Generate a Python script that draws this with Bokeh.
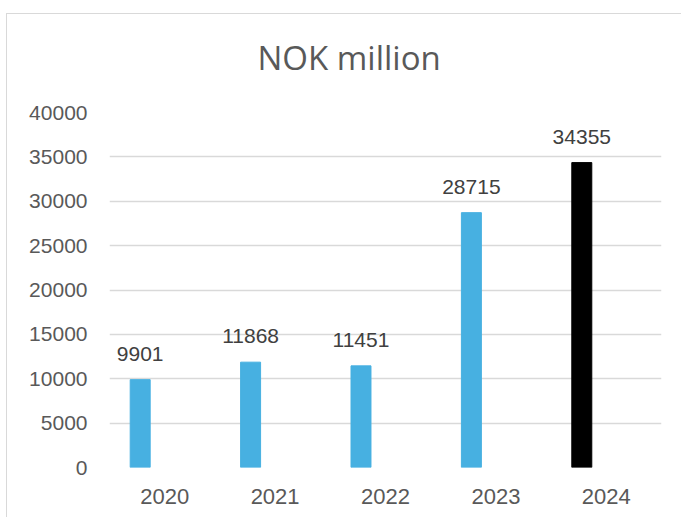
from bokeh.plotting import figure
from bokeh.models import (ColumnDataSource, FactorRange, Range1d, SingleIntervalTicker,
                          InlineStyleSheet)
from bokeh.transform import dodge
from bokeh.core.properties import value
from bokeh.embed import file_html
from bokeh.resources import INLINE

years = ["2020", "2021", "2022", "2023", "2024"]
values = [9901, 11868, 11451, 28715, 34355]
bar_colors = ["#47B0E1", "#47B0E1", "#47B0E1", "#47B0E1", "#000000"]
y_ticks_interval = 5000
title_text = "NOK million"

src = ColumnDataSource(dict(
    year=years,
    value=values,
    label=[str(v) for v in values],
    color=bar_colors,
))

p = figure(
    width=681, height=517,
    x_range=FactorRange(*years),
    y_range=Range1d(0, 40000),
    output_backend="svg", toolbar_location=None,
    min_border_left=109, min_border_right=20,
    min_border_top=111, min_border_bottom=50,
    title=title_text,
)
p.background_fill_color = "white"
p.border_fill_color = "white"
p.outline_line_color = None

offset = -0.222
p.vbar(x=dodge("year", offset, range=p.x_range), top="value", width=0.181,
       color="color", source=src)

p.text(x=dodge("year", offset, range=p.x_range), y="value", text="label",
       source=src, text_align="center", text_baseline="alphabetic",
       y_offset=-26, text_font=value("Liberation Sans"), text_font_size="21px",
       text_color="#404040")

# grid
p.xgrid.grid_line_color = None
p.ygrid.grid_line_color = "#d9d9d9"
p.ygrid.grid_line_width = 1.5
p.ygrid.ticker = SingleIntervalTicker(interval=y_ticks_interval)

# y axis
p.yaxis.ticker = SingleIntervalTicker(interval=y_ticks_interval)
p.yaxis.axis_line_color = None
p.yaxis.major_tick_line_color = None
p.yaxis.minor_tick_line_color = None
p.yaxis.major_tick_out = 0
p.yaxis.major_tick_in = 0
p.yaxis.major_label_standoff = 18
p.yaxis.major_label_text_font = "Liberation Sans"
p.yaxis.major_label_text_font_size = "21px"
p.yaxis.major_label_text_color = "#595959"

# x axis
p.xaxis.axis_line_color = None
p.xaxis.major_tick_line_color = None
p.xaxis.minor_tick_line_color = None
p.xaxis.major_tick_out = 0
p.xaxis.major_tick_in = 0
p.xaxis.major_label_standoff = 21
p.xaxis.major_label_text_font = "Liberation Sans"
p.xaxis.major_label_text_font_size = "22px"
p.xaxis.major_label_text_color = "#595959"

# title
p.title.align = "left"
p.title.offset = 148
p.title.standoff = 65
p.title.text_font = "Open Sans"
p.title.text_font_style = "normal"
p.title.text_font_size = "33px"
p.title.text_color = "#595959"

# chart area border (top and left edges visible in the window)
p.stylesheets = [InlineStyleSheet(css="""
:host { position: relative; overflow: hidden; }
:host::after {
  content: ""; position: absolute; left: 6px; top: 13px;
  width: 2000px; height: 2000px;
  border-left: 1.5px solid #d9d9d9; border-top: 1.5px solid #d9d9d9;
  pointer-events: none;
}
""")]

open("out.html", "w").write(file_html(p, INLINE))
